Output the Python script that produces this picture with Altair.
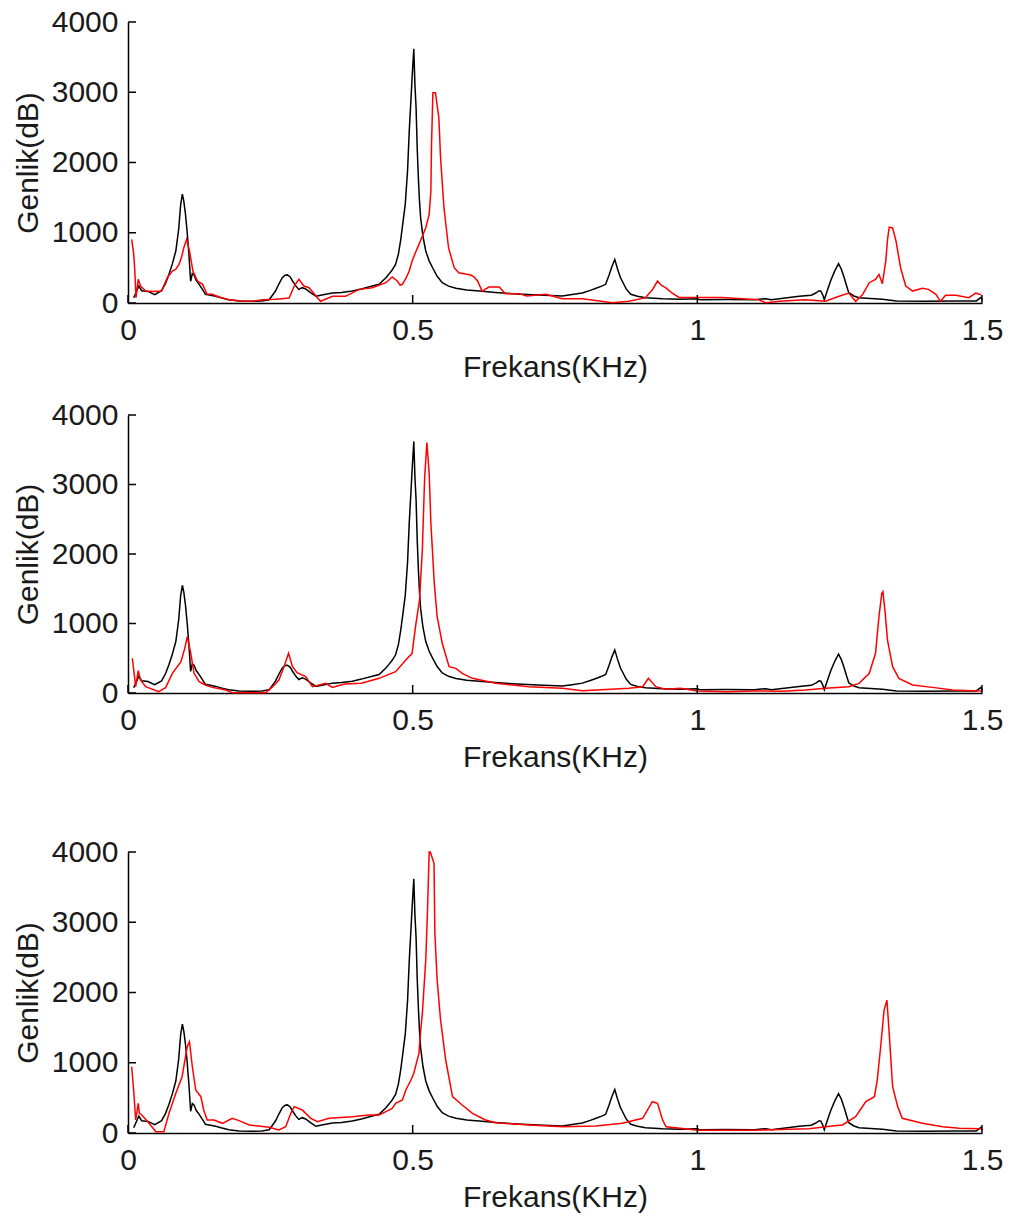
import altair as alt
import pandas as pd

# ---- data (frequency in kHz, amplitude) ----
black_f = [0.010, 0.019, 0.024, 0.035, 0.047, 0.059, 0.066, 0.072, 0.078, 0.084, 0.089, 0.0925, 0.0955, 0.098,
           0.101, 0.104, 0.107, 0.110, 0.113, 0.116, 0.120, 0.125, 0.131, 0.136, 0.145, 0.154, 0.165, 0.177,
           0.195, 0.218, 0.235, 0.248, 0.259, 0.265, 0.271, 0.276, 0.280, 0.285, 0.289, 0.295, 0.300, 0.306,
           0.312, 0.320, 0.330, 0.345, 0.359, 0.375, 0.394, 0.410, 0.429, 0.441, 0.453, 0.458, 0.464, 0.470,
           0.475, 0.479, 0.483, 0.487, 0.491, 0.494, 0.497, 0.499, 0.502, 0.504, 0.506, 0.508, 0.510, 0.512,
           0.514, 0.518, 0.523, 0.529, 0.535, 0.543, 0.552, 0.563, 0.576, 0.595, 0.617, 0.645, 0.675, 0.720,
           0.763, 0.780, 0.798, 0.812, 0.822, 0.832, 0.839, 0.845, 0.850, 0.855, 0.860, 0.865, 0.868, 0.875,
           0.883, 0.895, 0.909, 0.939, 0.970, 1.000, 1.005, 1.050, 1.100, 1.120, 1.130, 1.179, 1.200, 1.208,
           1.214, 1.217, 1.221, 1.223, 1.228, 1.234, 1.241, 1.248, 1.253, 1.258, 1.262, 1.266, 1.275, 1.284,
           1.325, 1.350, 1.400, 1.450, 1.490, 1.498, 1.500]
black_v = [75, 240, 175, 165, 120, 175, 280, 410, 560, 740, 1050, 1400, 1550, 1450,
           1260, 1000, 690, 310, 420, 400, 320, 265, 190, 125, 110, 95, 70, 47,
           30, 24, 30, 47, 170, 270, 360, 395, 400, 370, 313, 240, 194, 218,
           200, 150, 95, 120, 142, 150, 170, 200, 242, 266, 360, 408, 470, 550,
           700, 900, 1150, 1408, 1878, 2448, 2900, 3206, 3620, 3100, 2779, 2200, 1783, 1450,
           1214, 950, 740, 600, 502, 380, 289, 240, 209, 185, 170, 150, 133, 115,
           100, 120, 142, 180, 209, 240, 266, 400, 520, 620, 480, 360, 313, 200,
           124, 95, 76, 62, 55, 60, 45, 50, 48, 62, 48, 95, 110, 142,
           175, 170, 100, 47, 170, 313, 450, 560, 480, 360, 250, 147, 100, 76,
           53, 30, 25, 28, 30, 80, 40]

red1_f = [0.0065, 0.010, 0.012, 0.014, 0.018, 0.022, 0.031, 0.045, 0.059, 0.069, 0.078, 0.084, 0.0896, 0.094,
          0.098, 0.103, 0.108, 0.111, 0.114, 0.122, 0.131, 0.139, 0.148, 0.160, 0.177, 0.200, 0.218, 0.236,
          0.260, 0.283, 0.292, 0.300, 0.309, 0.318, 0.328, 0.338, 0.359, 0.382, 0.406, 0.429, 0.453, 0.464,
          0.473, 0.478, 0.482, 0.488, 0.494, 0.499, 0.505, 0.511, 0.517, 0.523, 0.529, 0.532, 0.533, 0.5355,
          0.540, 0.546, 0.549, 0.555, 0.563, 0.573, 0.581, 0.602, 0.608, 0.614, 0.622, 0.634, 0.652, 0.663,
          0.687, 0.700, 0.734, 0.763, 0.798, 0.851, 0.880, 0.909, 0.922, 0.930, 0.937, 0.944, 0.956, 0.968,
          1.044, 1.108, 1.120, 1.150, 1.190, 1.225, 1.249, 1.266, 1.278, 1.290, 1.302, 1.313, 1.319, 1.325,
          1.331, 1.334, 1.337, 1.343, 1.349, 1.357, 1.366, 1.378, 1.395, 1.406, 1.419, 1.427, 1.436, 1.454,
          1.477, 1.489, 1.498]
red1_v = [906, 700, 455, 75, 337, 242, 170, 165, 170, 360, 455, 480, 550, 650,
          787, 906, 740, 600, 455, 313, 266, 124, 124, 85, 47, 30, 24, 47,
          55, 71, 242, 337, 242, 218, 120, 24, 95, 95, 194, 218, 289, 370,
          313, 255, 266, 350, 455, 597, 720, 835, 950, 1072, 1262, 1594, 2210, 2993,
          2993, 2637, 2068, 1356, 787, 502, 431, 398, 370, 313, 170, 228, 228, 133,
          133, 100, 124, 62, 62, 5, 24, 76, 200, 313, 250, 218, 142, 80,
          80, 47, 5, 30, 47, 24, 95, 142, 24, 118, 289, 337, 408, 274,
          600, 900, 1080, 1068, 882, 502, 242, 170, 209, 194, 124, 24, 109, 109,
          76, 142, 118]

red2_f = [0.0076, 0.0135, 0.018, 0.022, 0.031, 0.054, 0.066, 0.078, 0.093, 0.100, 0.104, 0.110, 0.116, 0.125,
          0.136, 0.148, 0.172, 0.183, 0.242, 0.254, 0.265, 0.274, 0.282, 0.289, 0.297, 0.312, 0.324, 0.347,
          0.359, 0.380, 0.410, 0.441, 0.470, 0.488, 0.499, 0.505, 0.512, 0.517, 0.521, 0.525, 0.529, 0.532,
          0.538, 0.543, 0.552, 0.564, 0.576, 0.587, 0.605, 0.646, 0.704, 0.763, 0.798, 0.880, 0.904, 0.914,
          0.927, 0.944, 0.970, 1.000, 1.050, 1.100, 1.150, 1.190, 1.225, 1.266, 1.284, 1.302, 1.313, 1.319,
          1.324, 1.326, 1.330, 1.334, 1.343, 1.354, 1.378, 1.413, 1.448, 1.483, 1.500]
red2_v = [500, 91, 321, 187, 91, 19, 77, 283, 451, 650, 810, 585, 283, 163,
          115, 81, 43, 5, 5, 91, 187, 378, 571, 378, 292, 235, 91, 139,
          81, 130, 139, 211, 307, 475, 571, 954, 1338, 2058, 3090, 3602, 3162, 2442,
          1578, 1098, 715, 378, 355, 283, 211, 139, 91, 67, 34, 67, 91, 211,
          91, 53, 67, 30, 19, 30, 25, 43, 67, 91, 139, 283, 571, 1098,
          1434, 1458, 1146, 762, 378, 211, 115, 81, 43, 34, 30]

red3_f = [0.0065, 0.010, 0.0135, 0.018, 0.020, 0.024, 0.037, 0.049, 0.063, 0.072, 0.084, 0.095, 0.104, 0.108,
          0.113, 0.119, 0.128, 0.133, 0.139, 0.151, 0.166, 0.183, 0.195, 0.213, 0.248, 0.265, 0.277, 0.286,
          0.292, 0.306, 0.321, 0.333, 0.353, 0.394, 0.423, 0.441, 0.453, 0.464, 0.470, 0.482, 0.488, 0.497,
          0.502, 0.511, 0.514, 0.517, 0.523, 0.526, 0.529, 0.531, 0.5375, 0.539, 0.543, 0.549, 0.558, 0.570,
          0.587, 0.605, 0.628, 0.646, 0.704, 0.763, 0.822, 0.868, 0.904, 0.921, 0.930, 0.939, 0.945, 0.970,
          1.000, 1.100, 1.196, 1.237, 1.255, 1.278, 1.296, 1.311, 1.316, 1.322, 1.328, 1.333, 1.337, 1.343,
          1.352, 1.360, 1.395, 1.431, 1.460, 1.498]
red3_v = [943, 600, 185, 423, 280, 260, 138, 19, 19, 280, 565, 801, 1228, 1299,
          943, 612, 517, 328, 185, 185, 138, 209, 176, 114, 81, 43, 90, 280,
          375, 328, 209, 161, 209, 233, 256, 256, 304, 351, 423, 470, 612, 754,
          850, 1134, 1450, 1703, 2462, 3149, 4000, 4000, 3838, 2842, 2177, 1608, 1039, 517,
          398, 280, 185, 147, 114, 90, 100, 138, 209, 446, 423, 185, 90, 67,
          40, 40, 60, 100, 114, 232, 446, 517, 754, 1228, 1750, 1892, 1418, 659,
          375, 209, 138, 90, 67, 60]

x_ticks = [0, 0.5, 1, 1.5]
y_ticks = [0, 1000, 2000, 3000, 4000]

FONT = "Liberation Sans"
FS = 30
TXT = "#1a1a1a"

xscale = alt.Scale(domain=[0, 1.5], nice=False, zero=False)
yscale = alt.Scale(domain=[0, 4000], nice=False)


def panel(red_f, red_v, h):
    black_df = pd.DataFrame({"f": black_f, "a": black_v})
    red_df = pd.DataFrame({"f": red_f, "a": red_v})
    xaxis = alt.Axis(title="Frekans(KHz)", values=x_ticks, format="~g", labelPadding=12, titlePadding=7)
    yaxis = alt.Axis(title="Genlik(dB)", values=y_ticks, format="d", labelPadding=10, titlePadding=8)
    bl = alt.Chart(black_df).mark_line(color="#000000", strokeWidth=1.5).encode(
        x=alt.X("f:Q", scale=xscale, axis=xaxis),
        y=alt.Y("a:Q", scale=yscale, axis=yaxis),
        order="f:Q",
    )
    rl = alt.Chart(red_df).mark_line(color="#ff0000", strokeWidth=1.5).encode(
        x=alt.X("f:Q", scale=xscale, title="Frekans(KHz)"),
        y=alt.Y("a:Q", scale=yscale, title="Genlik(dB)"),
        order="f:Q",
    )
    yt = alt.Chart(pd.DataFrame({"a": y_ticks})).mark_rule(color="black", strokeWidth=1.5).encode(
        y=alt.Y("a:Q", scale=yscale, title="Genlik(dB)"), x=alt.value(0), x2=alt.value(8))
    xt = alt.Chart(pd.DataFrame({"f": x_ticks})).mark_rule(color="black", strokeWidth=1.5).encode(
        x=alt.X("f:Q", scale=xscale, title="Frekans(KHz)"), y=alt.value(h), y2=alt.value(h - 8))
    return alt.layer(bl, rl, yt, xt).properties(width=854, height=h)


p1 = panel(red1_f, red1_v, 281)
p2 = panel(red2_f, red2_v, 278)
p3 = panel(red3_f, red3_v, 281)

chart = alt.vconcat(alt.vconcat(p1, p2, spacing=18), p3, spacing=65).properties(
    padding={"left": 13, "top": 7, "right": 5, "bottom": 5},
    background="white",
).configure_view(stroke=None).configure_axis(
    ticks=False, tickSize=0, grid=False, domainColor="black", domainWidth=1.5,
    labelFont=FONT, labelFontSize=FS, labelColor=TXT, titleFont=FONT, titleFontSize=FS,
    titleFontWeight="normal", titleColor=TXT, labelFlush=False, labelOverlap=False,
)

chart.save("out.html", embed_options={"renderer": "svg", "actions": False})
